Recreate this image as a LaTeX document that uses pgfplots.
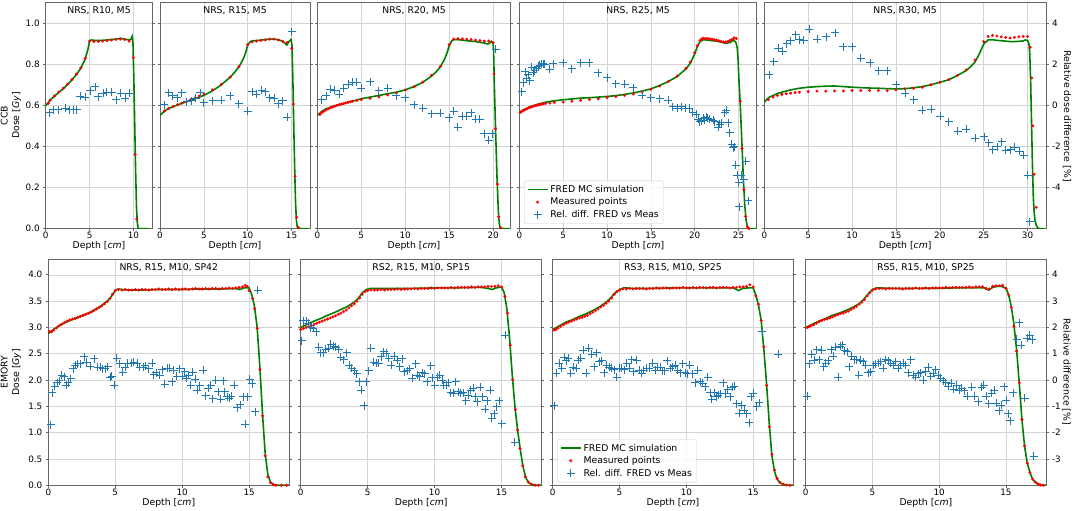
\documentclass[border=0pt]{standalone}
\usepackage{fontspec}
\setmainfont{DejaVu Sans}
\usepackage{pgfplots}
\pgfplotsset{compat=1.18}
\definecolor{mgreen}{RGB}{0,128,0}
\definecolor{mblue}{RGB}{31,119,180}
\definecolor{mred}{RGB}{255,0,0}
\pgfplotsset{
 base/.style={scale only axis, anchor=south west, xmin=0,
   tick align=outside, major tick length=2.5pt,
   axis line style={black!60, line width=0.7pt},
   every tick/.style={black!60, line width=0.6pt},
   ticklabel style={font=\fontsize{8.8}{10}\selectfont},
   /pgf/number format/assume math mode=true},
 L/.style={base, grid=major, grid style={black!17, line width=0.55pt},
   xtick pos=bottom, ytick pos=left,
   xlabel={Depth [\textit{cm}]},
   every axis x label/.style={font=\fontsize{9.3}{11}\selectfont, at={(axis description cs:0.5,0)}, anchor=north, inner sep=0pt, yshift=-12.5pt},
   every axis title/.style={font=\fontsize{9.3}{11}\selectfont, at={(axis description cs:0.5,1)}, anchor=north, inner sep=0pt, yshift=-4pt},
   xticklabel style={yshift=2.5pt},
   yticklabel style={/pgf/number format/fixed, /pgf/number format/fixed zerofill, /pgf/number format/precision=1}},
 R/.style={base, axis x line=none, axis y line*=right, ytick pos=right},
 TL/.style={L, height=226.2pt, ymin=0, ymax=1.1, ytick={0,0.2,0.4,0.6,0.8,1.0}},
 TR/.style={R, height=226.2pt, ymin=-6, ymax=5, ytick={-4,-2,0,2,4}},
 BL/.style={L, height=226.3pt, xmax=18, width=241pt, ymin=0, ymax=4.3, ytick={0,0.5,1,1.5,2,2.5,3,3.5,4}, xtick={0,5,10,15}},
 BR/.style={R, height=226.3pt, xmax=18, width=241pt, ymin=-4, ymax=4.6, ytick={-3,-2,-1,0,1,2,3,4}},
 sim/.style={color=mgreen, line width=1.6pt, no marks},
 meas/.style={only marks, mark=*, mark size=1.3pt, color=mred, mark options={draw=none, fill=mred}},
 rdiff/.style={only marks, mark=+, mark size=4pt, color=mblue, mark options={line width=1pt}},
 leg/.style={legend cell align=left,
   legend image code/.code={\draw[mark repeat=2,mark phase=2,##1] plot coordinates {(0pt,0pt) (10pt,0pt) (20pt,0pt)};},
   legend style={anchor=south west, draw=black!20, rounded corners=2pt, fill=white, fill opacity=0.8, draw opacity=1, text opacity=1, font=\fontsize{9.3}{11}\selectfont, row sep=0pt, inner sep=2.5pt}},
}
\begin{document}
\begin{tikzpicture}
\useasboundingbox (0pt,0pt) rectangle (1072pt,511pt);
% ================= TOP ROW =================
% T1
\begin{axis}[TL, at={(45.7pt,282.3pt)}, width=106.6pt, xmax=12.15, xtick={0,5,10}, title={NRS, R10, M5}]
\addplot[sim] coordinates {(0,0.598)(0.5,0.625)(1,0.645)(1.5,0.663)(2,0.681)(2.5,0.701)(3,0.724)(3.5,0.75)(4,0.78)(4.5,0.825)(4.8,0.87)(5,0.912)(5.2,0.918)(5.5,0.916)(6,0.915)(6.5,0.916)(7,0.918)(7.5,0.92)(8,0.922)(8.5,0.926)(9,0.922)(9.5,0.918)(9.7,0.92)(9.85,0.935)(9.95,0.9)(10.05,0.72)(10.15,0.5)(10.25,0.28)(10.35,0.1)(10.45,0.025)(10.55,0.002)(10.6,0)(11.7,0)};
\addplot[meas] coordinates {(0.3,0.61)(0.5,0.625)(1,0.645)(1.5,0.665)(2,0.683)(2.5,0.703)(3,0.726)(3.5,0.752)(4,0.782)(4.5,0.828)(5,0.912)(5.5,0.91)(6,0.911)(6.5,0.912)(7,0.914)(7.5,0.917)(8,0.92)(8.5,0.922)(9,0.92)(9.5,0.912)(10,0.832)(10.19,0.36)(10.38,0.047)};
\end{axis}
\begin{axis}[TR, at={(45.7pt,282.3pt)}, width=106.6pt, xmax=12.15, yticklabels={}]
\addplot[rdiff] coordinates {(0.49,-0.35)(0.87,-0.22)(1.44,-0.22)(2.2,-0.14)(2.7,-0.22)(3.16,-0.22)(3.54,-0.22)(3.92,0.45)(4.49,0.40)(5.06,0.72)(5.63,0.90)(6.0,0.42)(6.58,0.58)(6.96,0.64)(7.53,0.64)(8.02,0.27)(8.56,0.58)(9.05,0.34)(9.54,0.58)};
\end{axis}
% T2
\begin{axis}[TL, at={(160pt,282.3pt)}, width=150pt, xmax=17.1, xtick={0,5,10,15}, yticklabels={}, title={NRS, R15, M5}]
\addplot[sim] coordinates {(0,0.55)(0.5,0.572)(1,0.585)(2,0.602)(3,0.617)(4,0.632)(5,0.648)(6,0.671)(7,0.7)(8,0.737)(8.5,0.76)(9,0.787)(9.5,0.826)(9.8,0.86)(10,0.895)(10.3,0.91)(10.5,0.913)(11,0.915)(11.5,0.917)(12,0.92)(12.5,0.922)(13,0.922)(13.5,0.918)(14,0.912)(14.3,0.9)(14.45,0.893)(14.7,0.91)(14.95,0.92)(15.05,0.89)(15.15,0.72)(15.25,0.5)(15.35,0.3)(15.45,0.13)(15.55,0.04)(15.65,0.008)(15.75,0)(16.9,0)};
\addplot[meas] coordinates {(0.5,0.572)(1,0.585)(1.5,0.594)(2,0.603)(2.5,0.611)(3,0.618)(3.5,0.627)(4,0.636)(4.5,0.645)(5,0.655)(6,0.675)(7,0.702)(8,0.737)(9,0.788)(10,0.895)(10.5,0.908)(11,0.912)(11.5,0.915)(12,0.918)(12.5,0.922)(13,0.922)(13.5,0.918)(14,0.91)(14.5,0.905)(15,0.877)(15.2,0.606)(15.4,0.255)(15.58,0.055)(15.8,0.005)};
\end{axis}
\begin{axis}[TR, at={(160pt,282.3pt)}, width=150pt, xmax=17.1, yticklabels={}]
\addplot[rdiff] coordinates {(0.49,0.02)(0.99,0.62)(1.48,0.46)(1.97,0.37)(2.47,0.62)(3.04,0.18)(3.6,0.21)(4.1,0.34)(4.56,0.62)(5.0,0.13)(6.0,0.21)(7.0,0.24)(8.0,0.46)(9.0,0.08)(10.0,-0.28)(10.5,0.67)(11.0,0.54)(11.6,0.73)(12.0,0.67)(12.5,0.37)(13.0,0.34)(13.5,0.08)(14.0,0.21)(14.5,-0.57)(15.0,3.58)};
\end{axis}
% T3
\begin{axis}[TL, at={(317.3pt,282.3pt)}, width=193.4pt, xmax=22, xtick={0,5,10,15,20}, yticklabels={}, title={NRS, R20, M5}]
\addplot[sim] coordinates {(0,0.551)(0.5,0.57)(1,0.583)(2,0.598)(3,0.608)(4,0.62)(5,0.632)(6,0.64)(7,0.648)(8,0.656)(9,0.664)(10,0.675)(11,0.691)(12,0.712)(13,0.742)(13.5,0.762)(14,0.787)(14.5,0.826)(14.8,0.86)(15,0.89)(15.3,0.914)(15.6,0.92)(16,0.919)(16.5,0.917)(17,0.914)(17.5,0.912)(18,0.91)(18.5,0.906)(19,0.903)(19.4,0.898)(19.7,0.905)(19.8,0.911)(19.9,0.905)(20,0.9)(20.05,0.87)(20.15,0.68)(20.3,0.45)(20.45,0.24)(20.6,0.08)(20.7,0.025)(20.8,0.005)(20.9,0)(21.8,0)};
\addplot[meas] coordinates {(0.3,0.556)(0.5,0.564)(0.75,0.571)(1,0.577)(1.25,0.583)(1.5,0.588)(1.75,0.592)(2,0.596)(2.25,0.6)(2.5,0.603)(2.75,0.606)(3,0.609)(3.25,0.612)(3.5,0.615)(3.75,0.617)(4,0.62)(4.5,0.624)(5,0.628)(6,0.634)(7,0.641)(8,0.65)(9,0.66)(10,0.674)(11,0.69)(12,0.713)(13,0.746)(14,0.789)(15,0.895)(15.5,0.922)(16,0.924)(16.5,0.923)(17,0.922)(17.5,0.92)(18,0.917)(18.5,0.915)(19,0.912)(19.5,0.913)(20,0.905)(20.1,0.753)(20.27,0.486)(20.5,0.216)(20.64,0.058)(20.87,0.005)};
\end{axis}
\begin{axis}[TR, at={(317.3pt,282.3pt)}, width=193.4pt, xmax=22, yticklabels={}]
\addplot[rdiff] coordinates {(0.5,0.26)(1.0,0.46)(1.5,0.78)(2.0,0.73)(2.5,0.54)(3.0,0.83)(3.5,1.02)(4.0,1.11)(4.5,1.11)(5.0,0.83)(6.0,1.14)(7.0,0.7)(8.0,0.83)(9.0,0.46)(10.0,0.37)(11.0,0.02)(12.0,-0.15)(13.0,-0.41)(14.0,-0.39)(15.0,-0.6)(15.5,-0.28)(16.0,-1.06)(16.5,-0.52)(17.0,-0.52)(17.5,-0.36)(18.0,-0.68)(18.5,-0.68)(19.0,-1.38)(19.5,-1.71)(19.9,-1.38)(20.3,2.73)};
\end{axis}
% T4
\begin{axis}[TL, at={(519.3pt,282.3pt)}, width=237.4pt, xmax=27.07, xtick={0,5,10,15,20,25}, yticklabels={}, title={NRS, R25, M5}]
\addplot[sim] coordinates {(0,0.567)(0.5,0.578)(1,0.588)(1.5,0.597)(2,0.604)(3,0.615)(4,0.622)(5,0.627)(6,0.631)(7,0.635)(8,0.637)(9,0.64)(10,0.643)(11,0.647)(12,0.653)(13,0.66)(14,0.669)(15,0.68)(16,0.696)(17,0.716)(18,0.74)(19,0.777)(19.5,0.805)(20,0.85)(20.3,0.885)(20.6,0.91)(21,0.919)(21.5,0.917)(22,0.914)(22.5,0.912)(23,0.908)(23.5,0.902)(24,0.905)(24.3,0.913)(24.45,0.918)(24.7,0.905)(24.85,0.88)(24.95,0.82)(25.05,0.72)(25.2,0.6)(25.3,0.5)(25.4,0.4)(25.55,0.24)(25.7,0.12)(25.85,0.045)(26,0.01)(26.1,0)(26.95,0)};
\addplot[meas] coordinates {(0.1,0.565)(0.3,0.571)(0.5,0.576)(0.7,0.58)(0.9,0.584)(1.1,0.588)(1.3,0.591)(1.5,0.594)(1.7,0.597)(1.9,0.599)(2.1,0.601)(2.3,0.603)(2.5,0.605)(2.75,0.607)(3,0.609)(3.5,0.611)(4,0.614)(5,0.616)(6,0.62)(7,0.624)(8,0.628)(9,0.632)(10,0.638)(11,0.643)(12,0.648)(13,0.655)(14,0.665)(15,0.678)(16,0.694)(17,0.716)(18,0.742)(19,0.78)(19.5,0.81)(20,0.855)(20.3,0.89)(20.6,0.915)(20.8,0.923)(21,0.926)(21.25,0.925)(21.5,0.924)(21.75,0.923)(22,0.921)(22.25,0.919)(22.5,0.917)(22.75,0.913)(23,0.91)(23.25,0.908)(23.5,0.908)(23.75,0.91)(24,0.915)(24.25,0.92)(24.5,0.928)(24.75,0.925)(25.2,0.62)(25.4,0.39)(25.6,0.19)(25.8,0.06)(26,0.01)(26.2,0)};
\end{axis}
\begin{axis}[TR, leg, at={(519.3pt,282.3pt)}, width=237.4pt, xmax=27.07, yticklabels={}, legend style={at={(0.02,0.022)}}]
\addlegendimage{sim}\addlegendentry{FRED MC simulation}
\addlegendimage{meas}\addlegendentry{Measured points}
\addplot[rdiff] coordinates {(0.27,0.67)(0.46,1.1)(0.65,1.64)(0.83,1.32)(1.02,1.48)(1.21,1.19)(1.4,1.84)(1.59,1.59)(1.78,1.67)(1.97,1.79)(2.16,1.9)(2.35,1.95)(2.54,2.0)(2.73,2.03)(2.92,2.0)(3.49,1.76)(3.87,2.03)(5.0,2.08)(6.0,1.79)(7.0,2.06)(7.97,2.06)(9.0,1.59)(10.0,1.35)(11.0,1.06)(12.0,1.02)(13.0,0.86)(14.0,0.5)(15.0,0.37)(16.0,0.33)(17.0,0.24)(17.5,-0.08)(18.0,-0.15)(18.5,-0.08)(19.0,-0.15)(19.4,-0.15)(19.8,-0.36)(20.2,-0.44)(20.4,-0.68)(20.6,-0.8)(20.76,-0.76)(20.95,-0.63)(21.1,-0.72)(21.3,-0.57)(21.5,-0.63)(21.7,-0.68)(22.1,-0.73)(22.3,-0.8)(22.66,-1.06)(22.85,-0.93)(23.04,-0.85)(23.4,-0.36)(23.6,-0.24)(23.8,-0.85)(24.0,-1.33)(24.2,-1.9)(24.4,-2.07)(24.5,-2.02)(24.7,-2.91)(24.85,-3.4)(25.05,-3.77)(25.1,-4.94)(25.3,-3.4)(25.6,-3.61)(25.8,-2.72)(26.1,-4.63)};
\addlegendentry{Rel. diff. FRED vs Meas}
\end{axis}
% T5
\begin{axis}[TL, at={(764.3pt,282.3pt)}, width=281.7pt, xmax=32.1, xtick={0,5,10,15,20,25,30}, yticklabels={}, title={NRS, R30, M5}]
\addplot[sim] coordinates {(0,0.615)(0.3,0.63)(0.6,0.64)(1,0.648)(1.5,0.657)(2,0.664)(3,0.675)(4,0.683)(5,0.688)(6,0.691)(7,0.693)(8,0.694)(9,0.691)(10,0.688)(11,0.686)(12,0.684)(13,0.683)(14,0.681)(15,0.68)(16,0.681)(17,0.685)(18,0.691)(19,0.7)(20,0.712)(21,0.724)(22,0.745)(23,0.769)(23.5,0.787)(24,0.81)(24.5,0.85)(25,0.898)(25.5,0.918)(26,0.919)(26.5,0.916)(27,0.914)(27.5,0.912)(28,0.91)(28.5,0.91)(29,0.911)(29.5,0.913)(29.75,0.918)(30.0,0.915)(30.15,0.9)(30.25,0.85)(30.35,0.72)(30.45,0.52)(30.55,0.32)(30.65,0.16)(30.75,0.08)(30.85,0.04)(31.0,0.015)(31.2,0.003)(31.4,0)(31.9,0)};
\addplot[meas] coordinates {(0.46,0.628)(1,0.64)(1.5,0.648)(2,0.653)(2.5,0.656)(3,0.659)(3.5,0.662)(4,0.664)(5,0.667)(6,0.669)(7,0.669)(8,0.67)(9,0.67)(10,0.672)(11,0.672)(12,0.672)(13,0.672)(14,0.672)(15,0.675)(16,0.68)(17,0.683)(18,0.688)(19,0.7)(20,0.712)(21,0.725)(22,0.745)(23,0.772)(24,0.82)(25,0.91)(25.5,0.935)(26,0.94)(26.5,0.937)(27,0.933)(27.5,0.93)(28,0.927)(28.5,0.93)(29,0.933)(29.5,0.935)(30,0.935)(30.3,0.882)(30.49,0.733)(30.6,0.5)(30.75,0.265)(30.98,0.104)};
\end{axis}
\begin{axis}[TR, at={(764.3pt,282.3pt)}, width=281.7pt, xmax=32.1]
\addplot[rdiff] coordinates {(0.57,1.48)(1.1,2.11)(1.6,2.78)(2.1,2.62)(2.55,3.0)(3.04,3.14)(3.57,3.43)(4.0,3.19)(4.52,3.17)(5.13,3.71)(6.05,3.22)(7.03,3.33)(8.06,3.54)(9.0,2.86)(10.0,2.86)(11.0,2.28)(12.05,2.08)(13.04,1.67)(14.03,1.67)(15.06,0.99)(16.05,0.59)(17.03,0.26)(18.02,-0.24)(19.05,-0.2)(20.04,-0.52)(21.03,-0.8)(22.05,-1.25)(23.04,-1.17)(24.03,-1.61)(25.06,-1.54)(25.55,-1.82)(26.05,-2.15)(26.54,-2.02)(27.03,-1.77)(27.53,-2.18)(28.06,-2.15)(28.55,-2.03)(29.05,-2.23)(29.54,-2.42)(30.0,-3.4)(30.23,-5.67)};
\end{axis}
% ================= BOTTOM ROW =================
% B1
\begin{axis}[BL, at={(48.3pt,25.7pt)}, title={NRS, R15, M10, SP42}]
\addplot[sim] coordinates {(0,2.88)(0.2,2.92)(0.5,2.98)(1,3.06)(1.5,3.12)(2,3.17)(2.5,3.22)(3,3.27)(3.5,3.34)(4,3.42)(4.5,3.52)(4.8,3.62)(5,3.7)(5.2,3.73)(5.5,3.72)(6,3.71)(7,3.71)(8,3.72)(9,3.72)(10,3.72)(11,3.73)(12,3.73)(13,3.73)(14,3.74)(14.3,3.72)(14.6,3.75)(15,3.75)(15.2,3.62)(15.4,3.4)(15.6,3.0)(15.8,2.25)(16,1.35)(16.2,0.6)(16.4,0.2)(16.6,0.06)(16.8,0.02)(17,0.005)(17.3,0)(18,0)};
\addplot[meas] coordinates {(0.1,2.92)(0.25,2.92)(0.4,2.95)(0.6,2.99)(0.8,3.03)(1,3.06)(1.2,3.09)(1.4,3.12)(1.6,3.14)(1.8,3.16)(2,3.17)(2.2,3.19)(2.4,3.21)(2.6,3.23)(2.8,3.25)(3,3.27)(3.2,3.29)(3.4,3.32)(3.6,3.35)(3.8,3.38)(4,3.41)(4.2,3.45)(4.4,3.49)(4.6,3.55)(4.8,3.63)(5,3.7)(5.25,3.72)(5.5,3.71)(5.75,3.72)(6,3.71)(6.25,3.71)(6.5,3.72)(6.75,3.71)(7,3.72)(7.25,3.72)(7.5,3.71)(7.75,3.72)(8,3.72)(8.25,3.73)(8.5,3.72)(8.75,3.72)(9,3.73)(9.25,3.72)(9.5,3.73)(9.75,3.72)(10,3.73)(10.25,3.73)(10.5,3.72)(10.75,3.73)(11,3.74)(11.25,3.73)(11.5,3.73)(11.75,3.74)(12,3.73)(12.25,3.74)(12.5,3.74)(12.75,3.73)(13,3.74)(13.25,3.74)(13.5,3.75)(13.75,3.74)(14,3.75)(14.25,3.76)(14.5,3.77)(14.7,3.8)(14.85,3.78)(15,3.7)(15.25,3.55)(15.4,3.36)(15.6,2.98)(15.8,2.2)(16,1.32)(16.2,0.56)(16.4,0.16)(16.6,0.05)(16.8,0.01)(17,0)(17.4,0)(17.8,0)};
\end{axis}
\begin{axis}[BR, at={(48.3pt,25.7pt)}, yticklabels={}]
\addplot[rdiff] coordinates {(0.18,-1.70)(0.3,-0.48)(0.5,-0.23)(0.68,-0.1)(0.83,-0.03)(1.0,0.19)(1.18,0.13)(1.33,-0.19)(1.5,-0.1)(1.68,0.04)(1.88,0.43)(2.0,0.57)(2.18,0.61)(2.38,0.61)(2.68,0.88)(2.83,0.67)(3.13,0.53)(3.45,0.8)(3.68,0.48)(3.88,0.48)(4.05,0.42)(4.25,0.42)(4.43,0.51)(4.63,0.1)(4.75,0.15)(4.93,-0.19)(5.13,0.82)(5.33,0.61)(5.55,0.29)(5.75,0.48)(5.95,0.63)(6.2,0.63)(6.38,0.67)(6.63,0.63)(6.83,0.48)(7.08,0.48)(7.25,0.54)(7.5,0.42)(7.75,0.63)(7.88,0.21)(8.08,0.28)(8.33,0.19)(8.5,0.4)(8.7,-0.16)(8.88,0.44)(9.05,0.44)(9.25,-0.06)(9.38,0.38)(9.58,0.15)(9.8,0.42)(10.0,0.15)(10.2,0.32)(10.33,0.06)(10.45,0.19)(10.63,-0.19)(10.78,0.29)(10.98,0.03)(11.13,-0.38)(11.3,-0.21)(11.58,0.38)(11.75,-0.59)(11.93,-0.32)(12.13,-0.19)(12.3,-0.72)(12.5,0.0)(12.7,-0.44)(12.88,-0.73)(13.05,-0.03)(13.18,-0.44)(13.38,-0.63)(13.5,-0.69)(13.68,-0.61)(13.88,-0.19)(14.13,-1.06)(14.33,-0.93)(14.55,-0.63)(14.7,-1.68)(14.88,-0.63)(15.05,0.03)(15.25,-0.15)(15.45,-1.2)(15.63,3.41)};
\end{axis}
% B2
\begin{axis}[BL, at={(300.7pt,25.7pt)}, yticklabels={}, title={RS2, R15, M10, SP15}]
\addplot[sim] coordinates {(0,3.0)(0.5,3.06)(1,3.12)(1.5,3.17)(2,3.23)(2.5,3.28)(3,3.34)(3.5,3.4)(4,3.48)(4.3,3.55)(4.6,3.66)(4.9,3.72)(5.2,3.74)(5.5,3.74)(6,3.74)(7,3.74)(8,3.74)(9,3.745)(10,3.75)(11,3.75)(12,3.755)(13,3.76)(13.5,3.76)(14,3.74)(14.3,3.72)(14.6,3.75)(15,3.77)(15.2,3.66)(15.4,3.35)(15.6,2.8)(15.8,2.1)(16,1.5)(16.2,1.05)(16.4,0.68)(16.6,0.36)(16.8,0.15)(17,0.06)(17.2,0.02)(17.5,0.003)(17.7,0)(18,0)};
\addplot[meas] coordinates {(0,2.96)(0.2,2.98)(0.4,3.0)(0.6,3.02)(0.8,3.04)(1,3.06)(1.2,3.08)(1.4,3.1)(1.6,3.12)(1.8,3.14)(2,3.16)(2.2,3.18)(2.4,3.2)(2.6,3.22)(2.8,3.25)(3,3.27)(3.2,3.3)(3.4,3.33)(3.6,3.37)(3.8,3.41)(4,3.45)(4.2,3.5)(4.4,3.56)(4.6,3.63)(4.8,3.68)(5,3.7)(5.25,3.71)(5.5,3.71)(5.75,3.71)(6,3.72)(6.25,3.71)(6.5,3.72)(6.75,3.72)(7,3.72)(7.25,3.73)(7.5,3.72)(7.75,3.73)(8,3.73)(8.25,3.73)(8.5,3.74)(8.75,3.73)(9,3.74)(9.25,3.74)(9.5,3.74)(9.75,3.75)(10,3.74)(10.25,3.75)(10.5,3.75)(10.75,3.75)(11,3.75)(11.25,3.76)(11.5,3.75)(11.75,3.76)(12,3.76)(12.25,3.76)(12.5,3.76)(12.75,3.77)(13,3.76)(13.25,3.77)(13.5,3.77)(13.75,3.77)(14,3.78)(14.25,3.78)(14.5,3.78)(14.75,3.79)(15,3.77)(15.25,3.59)(15.45,3.27)(15.65,2.66)(15.83,2.01)(16.03,1.44)(16.2,1.05)(16.38,0.7)(16.58,0.37)(16.78,0.16)(17,0.06)(17.25,0.02)(17.5,0)(17.75,0)};
\end{axis}
\begin{axis}[BR, at={(300.7pt,25.7pt)}, yticklabels={}]
\addplot[rdiff] coordinates {(0.08,1.49)(0.2,2.25)(0.4,2.25)(0.58,2.15)(0.75,1.98)(0.95,1.96)(1.15,1.83)(1.33,1.24)(1.5,1.04)(1.7,1.04)(1.88,1.17)(2.08,1.2)(2.25,1.36)(2.45,1.29)(2.63,1.24)(2.83,1.17)(3.0,0.86)(3.2,0.78)(3.45,1.04)(3.63,0.57)(3.83,0.44)(4.0,0.35)(4.2,0.23)(4.38,-0.06)(4.53,-0.38)(4.75,-0.97)(4.9,-0.06)(5.08,0.35)(5.25,1.2)(5.45,0.67)(5.63,0.63)(5.83,0.63)(6.03,0.88)(6.2,1.07)(6.4,1.01)(6.58,0.82)(6.78,0.57)(7.0,0.91)(7.2,0.76)(7.4,0.51)(7.58,0.8)(7.75,0.32)(7.95,0.35)(8.15,0.42)(8.33,0.06)(8.58,0.61)(8.7,0.19)(8.9,0.13)(9.08,0.28)(9.28,0.23)(9.45,-0.06)(9.7,0.54)(9.83,0.09)(10.03,-0.19)(10.2,0.1)(10.4,0.19)(10.58,0.0)(10.7,-0.19)(10.88,-0.19)(11.03,-0.1)(11.2,-0.48)(11.38,-0.5)(11.58,-0.06)(11.75,-0.44)(11.95,-0.5)(12.13,-0.48)(12.33,-0.78)(12.5,-0.57)(12.7,-0.38)(12.88,-0.32)(13.03,-0.63)(13.2,-0.82)(13.4,-0.28)(13.58,-0.63)(13.78,-1.11)(13.95,-0.78)(14.15,-0.38)(14.28,-1.45)(14.45,-1.29)(14.65,-1.01)(14.83,-0.78)(15.03,-1.67)(15.28,1.7)(16.0,-2.37)};
\end{axis}
% B3
\begin{axis}[BL, at={(552.7pt,25.7pt)}, width=240.6pt, yticklabels={}, title={RS3, R15, M10, SP25}]
\addplot[sim] coordinates {(0,2.96)(0.5,3.03)(1,3.1)(1.5,3.15)(2,3.21)(2.5,3.26)(3,3.32)(3.5,3.39)(4,3.48)(4.3,3.55)(4.6,3.64)(5,3.72)(5.3,3.75)(5.5,3.75)(6,3.74)(7,3.74)(8,3.745)(9,3.75)(10,3.75)(11,3.75)(12,3.75)(13,3.75)(13.5,3.75)(13.9,3.7)(14.2,3.74)(14.6,3.75)(15,3.75)(15.2,3.61)(15.4,3.42)(15.6,3.13)(15.8,2.57)(16,1.93)(16.2,1.18)(16.4,0.56)(16.6,0.26)(16.8,0.11)(17,0.05)(17.2,0.02)(17.5,0.004)(17.7,0)(18,0)};
\addplot[meas] coordinates {(0.1,2.95)(0.25,2.96)(0.4,2.99)(0.6,3.02)(0.8,3.05)(1,3.08)(1.2,3.1)(1.4,3.12)(1.6,3.14)(1.8,3.16)(2,3.18)(2.2,3.19)(2.4,3.21)(2.6,3.23)(2.8,3.26)(3,3.29)(3.2,3.32)(3.4,3.35)(3.6,3.39)(3.8,3.42)(4,3.46)(4.2,3.5)(4.4,3.56)(4.6,3.63)(4.8,3.68)(5,3.71)(5.25,3.73)(5.5,3.73)(5.75,3.74)(6,3.73)(6.25,3.74)(6.5,3.74)(6.75,3.74)(7,3.73)(7.25,3.74)(7.5,3.74)(7.75,3.75)(8,3.74)(8.25,3.75)(8.5,3.75)(8.75,3.74)(9,3.75)(9.25,3.75)(9.5,3.75)(9.75,3.76)(10,3.75)(10.25,3.75)(10.5,3.76)(10.75,3.75)(11,3.76)(11.25,3.76)(11.5,3.75)(11.75,3.76)(12,3.76)(12.25,3.75)(12.5,3.76)(12.75,3.76)(13,3.76)(13.25,3.75)(13.5,3.76)(13.75,3.76)(14,3.77)(14.25,3.77)(14.5,3.78)(14.75,3.81)(15,3.77)(15.2,3.6)(15.4,3.44)(15.6,3.13)(15.8,2.63)(16,1.9)(16.2,1.11)(16.4,0.59)(16.6,0.29)(16.8,0.13)(17,0.06)(17.25,0.02)(17.5,0.005)(17.75,0)};
\end{axis}
\begin{axis}[BR, leg, at={(552.7pt,25.7pt)}, width=240.6pt, yticklabels={}, legend style={at={(0.019,0.013)}}]
\addlegendimage{sim}\addlegendentry{FRED MC simulation}
\addlegendimage{meas}\addlegendentry{Measured points}
\addplot[rdiff] coordinates {(0.1,-0.98)(0.25,0.25)(0.5,0.63)(0.67,0.44)(0.85,0.86)(1.0,0.73)(1.17,0.82)(1.35,0.25)(1.55,0.48)(1.75,0.44)(1.92,0.76)(2.1,0.82)(2.3,1.14)(2.5,0.25)(2.7,1.2)(2.92,0.98)(3.1,0.51)(3.3,1.04)(3.5,0.69)(3.67,0.73)(3.85,0.28)(4.04,0.57)(4.24,0.48)(4.41,0.44)(4.59,0.4)(4.79,0.1)(4.99,0.44)(5.16,0.44)(5.36,0.4)(5.54,0.63)(5.71,0.44)(5.91,0.78)(6.08,0.32)(6.28,0.76)(6.46,0.38)(6.66,0.25)(6.83,0.38)(7.03,0.44)(7.23,0.44)(7.48,0.63)(7.66,0.38)(7.83,0.48)(8.03,0.48)(8.23,0.35)(8.4,0.35)(8.58,0.73)(8.78,0.44)(8.98,0.51)(9.15,0.57)(9.35,0.38)(9.53,0.28)(9.73,0.61)(9.9,0.28)(10.07,0.23)(10.27,0.57)(10.47,0.23)(10.65,-0.1)(10.85,0.38)(11.02,-0.06)(11.22,-0.13)(11.4,-0.25)(11.6,0.1)(11.77,-0.48)(11.9,-0.73)(12.07,-0.48)(12.22,-0.63)(12.39,-0.57)(12.57,-0.53)(12.77,-0.1)(12.94,-0.53)(13.09,-0.35)(13.27,-0.63)(13.44,-0.28)(13.59,-0.23)(13.77,-0.91)(13.97,-1.26)(14.14,-0.95)(14.34,-1.14)(14.51,-1.29)(14.69,-1.62)(14.84,-0.63)(15.01,-0.51)(15.26,-1.01)(15.44,-0.86)(15.66,1.83)(16.88,0.98)};
\addlegendentry{Rel. diff. FRED vs Meas}
\end{axis}
% B4
\begin{axis}[BL, at={(805.7pt,25.7pt)}, width=240.3pt, yticklabels={}, title={RS5, R15, M10, SP25}]
\addplot[sim] coordinates {(0,3.0)(0.5,3.06)(1,3.12)(1.5,3.17)(2,3.23)(2.5,3.27)(3,3.32)(3.5,3.38)(4,3.45)(4.3,3.52)(4.6,3.61)(5,3.72)(5.3,3.75)(5.5,3.75)(6,3.745)(7,3.74)(8,3.74)(9,3.745)(10,3.745)(11,3.75)(12,3.75)(13,3.755)(13.4,3.75)(13.7,3.71)(14,3.76)(14.5,3.79)(15,3.75)(15.2,3.62)(15.4,3.4)(15.6,3.05)(15.8,2.57)(16,1.93)(16.2,1.24)(16.4,0.73)(16.6,0.42)(16.8,0.24)(17,0.11)(17.3,0.04)(17.6,0.01)(17.8,0)(18,0)};
\addplot[meas] coordinates {(0.1,3.0)(0.25,3.01)(0.4,3.03)(0.6,3.05)(0.8,3.08)(1,3.11)(1.2,3.13)(1.4,3.15)(1.6,3.16)(1.8,3.18)(2,3.2)(2.2,3.22)(2.4,3.24)(2.6,3.26)(2.8,3.27)(3,3.29)(3.2,3.31)(3.4,3.34)(3.6,3.37)(3.8,3.4)(4,3.44)(4.2,3.48)(4.4,3.53)(4.6,3.6)(4.8,3.66)(5,3.71)(5.25,3.73)(5.5,3.74)(5.75,3.74)(6,3.73)(6.25,3.74)(6.5,3.74)(6.75,3.74)(7,3.74)(7.25,3.73)(7.5,3.74)(7.75,3.74)(8,3.74)(8.25,3.75)(8.5,3.74)(8.75,3.74)(9,3.75)(9.25,3.74)(9.5,3.75)(9.75,3.75)(10,3.75)(10.25,3.75)(10.5,3.76)(10.75,3.75)(11,3.76)(11.25,3.76)(11.5,3.76)(11.75,3.76)(12,3.76)(12.25,3.77)(12.5,3.76)(12.75,3.77)(13,3.77)(13.25,3.77)(13.5,3.74)(13.75,3.73)(14,3.78)(14.25,3.79)(14.5,3.79)(14.75,3.8)(15,3.74)(15.2,3.62)(15.4,3.38)(15.6,3.02)(15.8,2.55)(16,1.95)(16.2,1.25)(16.4,0.75)(16.6,0.42)(16.8,0.24)(17,0.12)(17.2,0.06)(17.4,0.025)(17.6,0.005)(17.8,0)};
\end{axis}
\begin{axis}[BR, at={(805.7pt,25.7pt)}, width=240.3pt]
\addplot[rdiff] coordinates {(0.12,-0.61)(0.27,0.61)(0.45,0.98)(0.65,0.76)(0.82,1.16)(1.0,0.78)(1.2,1.14)(1.37,0.51)(1.52,0.63)(1.7,0.73)(1.9,1.16)(2.07,0.91)(2.24,1.24)(2.44,0.1)(2.57,1.29)(2.74,1.35)(2.94,1.11)(3.12,1.07)(3.27,0.51)(3.44,0.91)(3.62,0.78)(3.82,0.78)(3.99,0.19)(4.14,0.76)(4.31,0.69)(4.51,0.57)(4.69,0.28)(4.89,0.32)(5.06,0.57)(5.26,0.61)(5.44,0.63)(5.61,0.69)(5.81,0.44)(6.01,0.78)(6.18,0.73)(6.36,0.63)(6.56,0.57)(6.76,0.69)(6.93,0.44)(7.13,0.57)(7.31,0.63)(7.51,0.57)(7.68,0.28)(7.88,0.78)(8.05,0.19)(8.25,0.1)(8.43,0.23)(8.63,0.28)(8.8,0.0)(9.0,0.32)(9.18,0.48)(9.35,0.15)(9.55,0.25)(9.73,0.4)(9.93,0.19)(10.1,0.06)(10.3,-0.03)(10.5,-0.1)(10.67,-0.23)(10.92,-0.13)(11.1,-0.35)(11.3,-0.19)(11.5,-0.38)(11.67,-0.32)(11.87,-0.4)(12.1,-0.61)(12.42,-0.28)(12.67,-0.61)(12.92,-0.82)(13.17,-0.28)(13.35,-0.19)(13.54,-0.61)(13.72,-0.91)(13.92,-0.51)(14.11,-0.38)(14.29,-0.88)(14.49,-1.16)(14.66,-0.95)(14.86,-0.25)(15.04,-0.76)(15.16,-1.29)(15.34,-1.54)(15.54,-0.48)(15.79,1.55)(15.99,2.17)(16.16,1.33)(16.41,-0.69)(16.61,1.58)(16.78,1.7)(16.98,1.54)(17.08,-2.9)};
\end{axis}
% ================= side labels =================
\node[rotate=90, align=center, font=\fontsize{9.3}{11.5}\selectfont] at (11pt,395.4pt) {CCB\\Dose [\textit{Gy}]};
\node[rotate=90, align=center, font=\fontsize{9.3}{11.5}\selectfont] at (11pt,139pt) {EMORY\\Dose [\textit{Gy}]};
\node[rotate=-90, font=\fontsize{9.3}{11}\selectfont] at (1067pt,395pt) {Relative dose difference [\%]};
\node[rotate=-90, font=\fontsize{9.3}{11}\selectfont] at (1066.5pt,139pt) {Relative difference [\%]};
\end{tikzpicture}
\end{document}
